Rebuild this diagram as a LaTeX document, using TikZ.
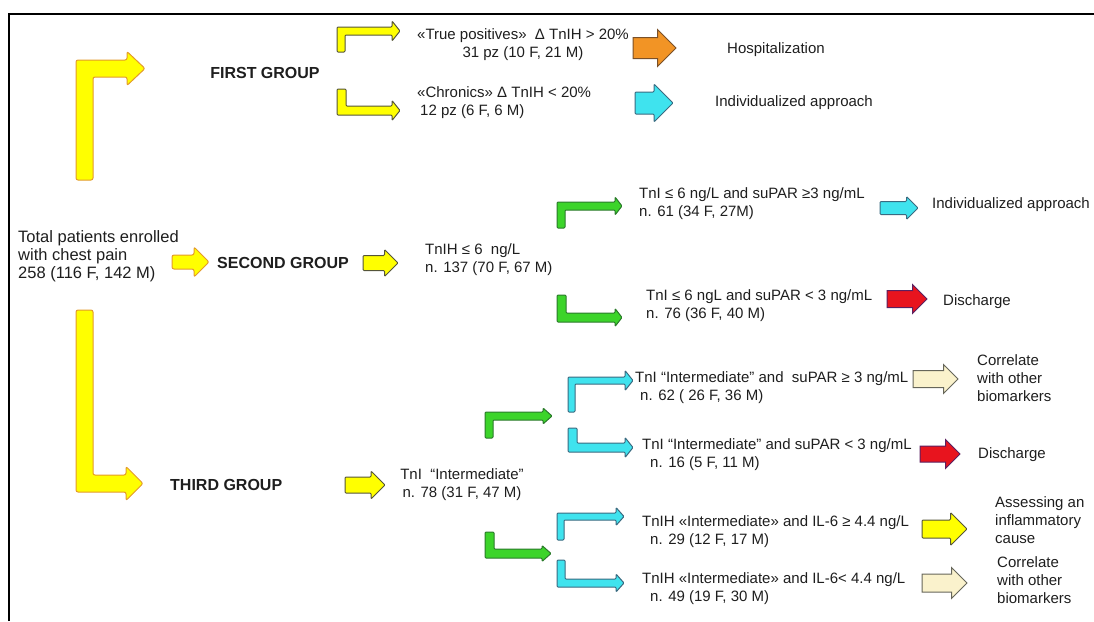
\documentclass[tikz,border=0pt]{standalone}
\usepackage{fontspec}
\setmainfont{Liberation Sans}
\usetikzlibrary{shapes.arrows}

\definecolor{txtgray}{HTML}{1E1E1E}
\definecolor{yelfill}{HTML}{FFFF00}
\definecolor{yeledge}{HTML}{E39A2B}
\definecolor{darkedge}{HTML}{55553A}
\definecolor{orgfill}{HTML}{F29425}
\definecolor{orgedge}{HTML}{7A5028}
\definecolor{cyanfill}{HTML}{3FE3EE}
\definecolor{cyanedge}{HTML}{3A6A80}
\definecolor{redfill}{HTML}{E8141E}
\definecolor{rededge}{HTML}{5A2060}
\definecolor{grnfill}{HTML}{3CD42A}
\definecolor{grnedge}{HTML}{2A7A2A}
\definecolor{crmfill}{HTML}{FAF2CC}
\definecolor{crmedge}{HTML}{66665A}

% bent block arrow: style, corner, direction (1 up / -1 down), shaft length,
% reach to tip, shaft width, head half-height, head length
\newcommand{\bentarrow}[8]{%
  \begin{scope}[shift={#2}, yscale=#3]
    \draw[#1] (0,#4) -- (0,0) -- ({#5-#8},0) -- ({#5-#8},{#6/2-#7})
      -- (#5,{#6/2}) -- ({#5-#8},{#6/2+#7}) -- ({#5-#8},#6)
      -- (#6,#6) -- (#6,#4) -- cycle;
  \end{scope}}

\tikzset{
  txt/.style={font=\fontsize{15}{18}\selectfont, text=txtgray, align=left, inner sep=0pt},
  grp/.style={font=\fontsize{16}{19}\selectfont\bfseries, text=txtgray, inner sep=0pt},
  blk/.style n args={3}{single arrow, minimum height=#1, minimum width=#2,
    single arrow head extend={(#2-#3)/2}, inner xsep=0pt, inner ysep={#3/2},
    outer sep=0pt, anchor=tail},
  bigyel/.style={fill=yelfill, draw=yeledge, line width=1pt, rounded corners=2pt},
  smallyel/.style={fill=yelfill, draw=darkedge, line width=1pt, rounded corners=1pt},
  orgarrow/.style={fill=orgfill, draw=orgedge, line width=1pt},
  cyanarrow/.style={fill=cyanfill, draw=cyanedge, line width=1pt, rounded corners=1pt},
  redarrow/.style={fill=redfill, draw=rededge, line width=1pt},
  grnarrow/.style={fill=grnfill, draw=grnedge, line width=1pt, rounded corners=1pt},
  crmarrow/.style={fill=crmfill, draw=crmedge, line width=1pt}
}

\begin{document}
\begin{tikzpicture}[x=1pt, y=-1pt]
    \useasboundingbox (0,0) rectangle (1094,621);

    % frame
    \draw[line width=2pt] (9,621) -- (9,14) -- (1094,14);

    % big bent arrows to the first and third group
    \bentarrow{bigyel}{(76,60)}{1}{120}{69}{17}{17}{18}
    \bentarrow{bigyel}{(76,492)}{-1}{182}{67}{17}{17}{17}

    % texts
    \node[txt, anchor=west, font=\fontsize{16.5}{18}\selectfont] (total) at (18,256) {Total patients enrolled\\with chest pain\\258 (116 F, 142 M)};
    \node[grp] (first) at (265,73) {FIRST GROUP};
    \node[grp, anchor=west] (second) at (217,263) {SECOND GROUP};
    \node[grp, anchor=west] (third) at (170,485) {THIRD GROUP};

    \node[txt, align=center] (truepos) at (523,45) {«True positives»~ Δ TnIH > 20\%\\31 pz (10 F, 21 M)};
    \node[txt, anchor=west] (chronics) at (417,103) {«Chronics» Δ TnIH < 20\%\\\hspace{3pt}12 pz (6 F, 6 M)};
    \node[txt, anchor=west] (hosp) at (727,50) {Hospitalization};
    \node[txt, anchor=west] (indiv1) at (715,103) {Individualized approach};

    \node[txt, anchor=west] (tnih6) at (425,260) {TnIH ≤ 6~ ng/L\\n. 137 (70 F, 67 M)};
    \node[txt, anchor=west] (sup61) at (639,204) {TnI ≤ 6 ng/L and suPAR ≥3 ng/mL\\n. 61 (34 F, 27M)};
    \node[txt, anchor=west] (sup76) at (646,306) {TnI ≤ 6 ngL and suPAR < 3 ng/mL\\n. 76 (36 F, 40 M)};
    \node[txt, anchor=west] (indiv2) at (932,205) {Individualized approach};
    \node[txt, anchor=west] (disch1) at (943,302) {Discharge};

    \node[txt, align=center] (tni78) at (462,485) {TnI~ “Intermediate”\\n. 78 (31 F, 47 M)};
    \node[txt, anchor=west] (int62) at (635,388) {TnI “Intermediate” and~ suPAR ≥ 3 ng/mL\\\hspace{5pt}n. 62 ( 26 F, 36 M)};
    \node[txt, anchor=west] (int16) at (642,455) {TnI “Intermediate” and suPAR < 3 ng/mL\\\hspace{8pt}n. 16 (5 F, 11 M)};
    \node[txt, anchor=west] (il29) at (642,532) {TnIH «Intermediate» and IL-6 ≥ 4.4 ng/L\\\hspace{8pt}n. 29 (12 F, 17 M)};
    \node[txt, anchor=west] (il49) at (642,589) {TnIH «Intermediate» and IL-6< 4.4 ng/L\\\hspace{8pt}n. 49 (19 F, 30 M)};
    \node[txt, anchor=west] (correl1) at (977,378) {Correlate\\with other\\biomarkers};
    \node[txt, anchor=west] (disch2) at (978,455) {Discharge};
    \node[txt, anchor=west] (assess) at (995,520) {Assessing an\\inflammatory\\cause};
    \node[txt, anchor=west] (correl2) at (997,580) {Correlate\\with other\\biomarkers};

    % straight block arrows
    \node[blk={37}{29}{13}, bigyel] (toSecond) at (172,262) {};
    \node[blk={35}{26}{14}, smallyel] (fromSecond) at (363,263) {};
    \node[blk={40}{27}{15}, smallyel] (fromThird) at (345,485) {};
    \node[blk={43}{36}{20}, orgarrow] (toHosp) at (633,48) {};
    \node[blk={38}{37}{21}, cyanarrow] (toIndiv1) at (635,103) {};
    \node[blk={38}{22}{12}, cyanarrow] (toIndiv2) at (880,208) {};
    \node[blk={40}{28}{16}, redarrow] (toDisch1) at (887,299) {};
    \node[blk={45}{28}{16}, crmarrow] (toCorrel1) at (913,379) {};
    \node[blk={40}{28}{15}, redarrow] (toDisch2) at (920,454) {};
    \node[blk={45}{32}{17}, smallyel] (toAssess) at (922,529) {};
    \node[blk={45}{30}{17}, crmarrow] (toCorrel2) at (922,583) {};

    % small bent arrows
    \bentarrow{smallyel}{(337,27)}{1}{25}{63}{8}{10}{8}
    \bentarrow{smallyel}{(337,115)}{-1}{26}{63}{9}{10}{8}
    \bentarrow{grnarrow}{(557,202)}{1}{26}{65}{8}{9}{7}
    \bentarrow{grnarrow}{(557,322)}{-1}{27}{65}{9}{9}{7}
    \bentarrow{grnarrow}{(485,412)}{1}{26}{67}{8}{8}{9}
    \bentarrow{grnarrow}{(485,558)}{-1}{26}{66}{9}{8}{9}
    \bentarrow{cyanarrow}{(568,377)}{1}{35}{65}{7}{10}{8}
    \bentarrow{cyanarrow}{(568,452)}{-1}{24}{65}{9}{10}{8}
    \bentarrow{cyanarrow}{(557,513)}{1}{27}{67}{7}{9}{8}
    \bentarrow{cyanarrow}{(557,587)}{-1}{27}{67}{8}{9}{8}

\end{tikzpicture}
\end{document}
